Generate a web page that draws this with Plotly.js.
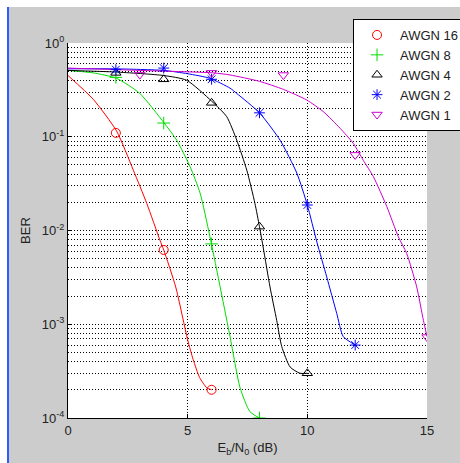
<!DOCTYPE html>
<html><head><meta charset="utf-8">
<script src="https://cdn.plot.ly/plotly-3.0.1.min.js"></script>
<style>
html,body{margin:0;padding:0;background:#ffffff;width:460px;height:463px;overflow:hidden;}
#edge{position:absolute;left:7px;top:7px;width:2px;height:456px;background:#2a5cff;}
#chart{position:absolute;left:9px;top:7px;width:451px;height:456px;}
</style></head>
<body>
<div id="edge"></div>
<div id="chart"></div>
<script>
// Series names
const names = ["AWGN 16", "AWGN 8", "AWGN 4", "AWGN 2", "AWGN 1"];
const colors = ["#ff0000", "#00dd00", "#000000", "#0000ff", "#cc00cc"];
const symbols = ["circle-open", "cross-thin-open", "triangle-up-open", "asterisk-open", "triangle-down-open"];

// Fitted curves
const curveX16 = [0, 1.06, 2.03, 2.73, 3.29, 3.84, 4, 4.5, 5, 5.23, 5.5, 5.8, 6];
const curveY16 = [0.45, 0.25, 0.115, 0.044, 0.0195, 0.0079, 0.0062, 0.0025, 6.8e-4, 4.2e-4, 2.7e-4, 2.1e-4, 2.0e-4];
const curveX8 = [0, 1.05, 2.03, 3.0, 4.01, 4.54, 5.1, 5.52, 5.93, 6.77, 7.19, 7.6, 8];
const curveY8 = [0.51, 0.48, 0.42, 0.29, 0.141, 0.092, 0.048, 0.025, 0.0086, 7.4e-4, 2.1e-4, 1.17e-4, 1.0e-4];
const curveX4 = [0, 2, 4, 4.96, 6, 6.63, 7.05, 7.47, 7.81, 8.0, 8.16, 8.44, 8.72, 8.93, 9.28, 9.69, 10];
const curveY4 = [0.51, 0.49, 0.45, 0.40, 0.24, 0.164, 0.092, 0.044, 0.0195, 0.011, 0.0065, 0.0025, 0.0011, 5.8e-4, 3.5e-4, 3.0e-4, 3.0e-4];
const curveX2 = [0, 2, 4, 5, 5.93, 6.77, 7.05, 8.0, 8.86, 9.56, 10, 10.4, 10.81, 11.23, 11.5, 12];
const curveY2 = [0.53, 0.53, 0.51, 0.47, 0.42, 0.33, 0.29, 0.18, 0.092, 0.041, 0.0187, 0.0075, 0.0032, 0.0013, 7.4e-4, 6.0e-4];
const curveX1 = [0, 3, 6.07, 6.77, 8.0, 9.0, 9.97, 10.67, 11.37, 11.92, 12.34, 12.76, 13.32, 13.8, 14.15, 14.57, 14.85, 15];
const curveY1 = [0.54, 0.51, 0.48, 0.456, 0.39, 0.32, 0.247, 0.185, 0.123, 0.085, 0.056, 0.0375, 0.018, 0.0086, 0.0057, 0.0025, 0.0011, 7.4e-4];

// Simulated points (markers)
const markX16 = [2, 4, 6];
const markY16 = [0.11, 0.0062, 2.0e-4];
const markX8 = [2, 4, 6, 8];
const markY8 = [0.43, 0.14, 0.0072, 1.0e-4];
const markX4 = [2, 4, 6, 8, 10];
const markY4 = [0.48, 0.41, 0.23, 0.011, 3.0e-4];
const markX2 = [2, 4, 6, 8, 10, 12];
const markY2 = [0.52, 0.54, 0.41, 0.18, 0.0187, 6.0e-4];
const markX1 = [3, 6, 9, 12, 15];
const markY1 = [0.46, 0.48, 0.455, 0.064, 7.3e-4];

// Axis ticks
const xTicks = [0, 5, 10, 15];
const yTickExp = [0, -1, -2, -3, -4];

const curvesX = [curveX16, curveX8, curveX4, curveX2, curveX1];
const curvesY = [curveY16, curveY8, curveY4, curveY2, curveY1];
const marksX = [markX16, markX8, markX4, markX2, markX1];
const marksY = [markY16, markY8, markY4, markY2, markY1];

const traces = [];
for (let i = 0; i < names.length; i++) {
  traces.push({
    x: curvesX[i], y: curvesY[i], type: "scatter", mode: "lines",
    line: {color: colors[i], width: 1, shape: "spline", smoothing: 0.6},
    showlegend: false, hoverinfo: "skip", legendgroup: "g" + i
  });
}
for (let i = 0; i < names.length; i++) {
  traces.push({
    x: marksX[i], y: marksY[i], type: "scatter", mode: "markers", name: names[i],
    legendgroup: "g" + i,
    marker: {symbol: symbols[i], size: 9, color: colors[i], line: {color: colors[i], width: 1}}
  });
}

const yTickVals = yTickExp.map(e => Math.pow(10, e));
const yTickText = yTickExp.map(e => "10<sup>" + e + "</sup>");
const minorVals = [];
yTickExp.slice(1).forEach(e => { for (let k = 2; k <= 9; k++) minorVals.push(k * Math.pow(10, e)); });

const dots = "1px,2px";
const layout = {
  width: 451, height: 456,
  paper_bgcolor: "#cccccc", plot_bgcolor: "#ffffff",
  margin: {l: 59, r: 33, t: 36, b: 45, autoexpand: false},
  font: {family: "Liberation Sans, Arial, sans-serif", size: 13, color: "#222222"},
  xaxis: {
    type: "linear", range: [0, 15], tickvals: xTicks, ticktext: xTicks.map(String),
    showgrid: true, gridcolor: "#000000", griddash: dots, gridwidth: 1,
    showline: true, linecolor: "#000000", linewidth: 1, mirror: false,
    ticks: "inside", ticklen: 4, tickcolor: "#000000",
    zeroline: false,
    title: {text: "E<sub>b</sub>/N<sub>0</sub> (dB)", font: {size: 13}, standoff: 6}
  },
  yaxis: {
    type: "log", range: [-4, 0], tickvals: yTickVals, ticktext: yTickText,
    showgrid: true, gridcolor: "#000000", griddash: dots, gridwidth: 1,
    showline: true, linecolor: "#000000", linewidth: 1, mirror: false,
    ticks: "inside", ticklen: 4, tickcolor: "#000000",
    zeroline: false,
    minor: {tickvals: minorVals, showgrid: true, gridcolor: "#000000", griddash: dots, gridwidth: 1, ticks: ""},
    title: {text: "BER", font: {size: 13}, standoff: 8}
  },
  legend: {
    x: 0.794, y: 1.064, xanchor: "left", yanchor: "top",
    bgcolor: "#ffffff", bordercolor: "#000000", borderwidth: 1,
    font: {size: 13, color: "#222222"}, traceorder: "grouped", tracegroupgap: 0,
    itemwidth: 36
  },
  showlegend: true
};

Plotly.newPlot("chart", traces, layout, {displayModeBar: false, staticPlot: true});
</script>
</body></html>
